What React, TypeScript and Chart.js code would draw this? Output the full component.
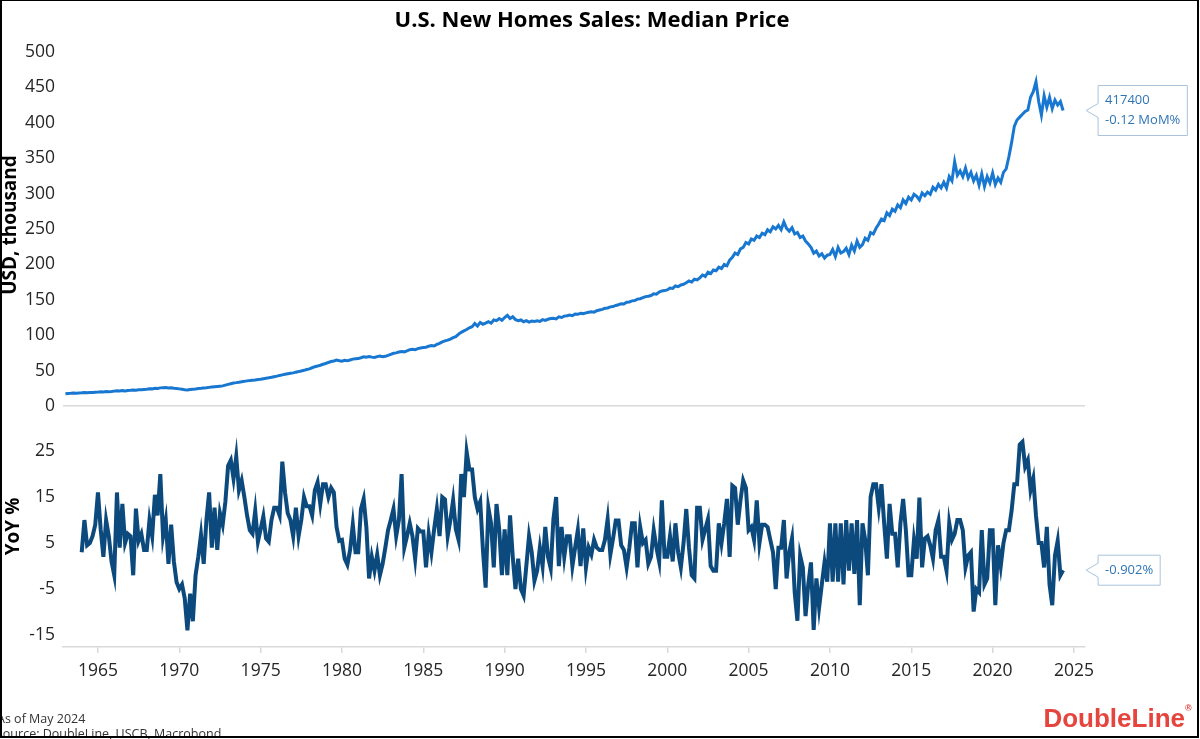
import React, { useEffect, useRef } from "react";
import { Chart, registerables } from "chart.js";

Chart.register(...registerables);

// ---------- Data (bi-monthly samples: Jan, Mar, May, Jul, Sep, Nov) ----------
const TITLE = "U.S. New Homes Sales: Median Price";
const PRICE_AXIS_TITLE = "USD, thousand";
const YOY_AXIS_TITLE = "YoY %";
const PRICE_START_YEAR = 1963;
const YOY_START_YEAR = 1964;
const PERIODS_PER_YEAR = 6;

const YEAR_TICKS = [1965, 1970, 1975, 1980, 1985, 1990, 1995, 2000, 2005, 2010, 2015, 2020, 2025];
const PRICE_TICKS = [0, 50, 100, 150, 200, 250, 300, 350, 400, 450, 500];
const YOY_TICKS = [-15, -5, 5, 15, 25];

// Median price, USD thousand
const priceValues = [
  17.2, 17.8, 18.0, 18.3, 18.1, 18.5, // 1963
  18.6, 18.9, 18.7, 19.2, 19.0, 19.4, // 1964
  19.6, 20.0, 19.8, 20.3, 20.1, 20.5, // 1965
  21.0, 21.4, 21.1, 21.7, 21.3, 22.0, // 1966
  22.2, 22.6, 22.4, 23.0, 22.8, 23.3, // 1967
  23.8, 24.5, 24.2, 25.0, 24.8, 25.6, // 1968
  25.8, 26.0, 25.6, 25.9, 25.2, 24.8, // 1969
  24.2, 23.6, 23.0, 22.6, 23.2, 23.8, // 1970
  24.0, 24.6, 25.0, 25.5, 25.8, 26.3, // 1971
  26.8, 27.2, 27.6, 28.0, 28.4, 29.5, // 1972
  30.5, 31.5, 32.5, 33.0, 33.6, 34.3, // 1973
  34.8, 35.5, 35.9, 36.4, 36.8, 37.5, // 1974
  37.8, 38.6, 39.3, 39.8, 40.5, 41.4, // 1975
  42.2, 43.2, 44.0, 44.8, 45.5, 46.2, // 1976
  46.8, 47.8, 48.6, 49.5, 50.4, 51.5, // 1977
  52.5, 54.0, 55.5, 56.4, 57.6, 59.0, // 1978
  60.0, 61.5, 62.8, 63.5, 64.8, 64.0, // 1979
  63.2, 64.5, 63.8, 65.0, 66.2, 66.8, // 1980
  67.0, 68.2, 69.5, 68.8, 70.0, 69.0, // 1981
  68.5, 69.8, 70.5, 69.5, 70.2, 71.5, // 1982
  73.0, 74.5, 75.0, 76.2, 77.0, 76.5, // 1983
  78.0, 79.5, 80.2, 79.5, 81.0, 82.0, // 1984
  82.5, 83.0, 84.5, 85.5, 84.8, 87.0, // 1985
  88.5, 90.5, 92.0, 93.0, 94.5, 96.5, // 1986
  98.0, 101.5, 104.0, 106.0, 108.0, 110.5, // 1987
  112.0, 116.5, 113.0, 118.0, 115.5, 117.0, // 1988
  119.0, 117.0, 121.5, 120.5, 123.5, 121.0, // 1989
  125.0, 128.0, 123.5, 126.0, 122.0, 120.5, // 1990
  121.5, 119.0, 120.5, 118.5, 120.0, 119.5, // 1991
  120.5, 119.5, 122.0, 121.0, 122.5, 123.5, // 1992
  124.0, 123.0, 126.0, 125.0, 127.0, 127.5, // 1993
  128.5, 127.5, 130.0, 129.5, 131.0, 130.5, // 1994
  131.5, 132.5, 133.0, 132.5, 134.5, 135.5, // 1995
  136.5, 138.0, 138.5, 140.0, 140.5, 142.0, // 1996
  143.0, 144.5, 144.0, 146.5, 147.0, 148.5, // 1997
  149.0, 151.0, 151.5, 153.0, 154.5, 155.0, // 1998
  156.0, 158.5, 158.0, 161.0, 162.5, 163.0, // 1999
  164.0, 166.5, 166.0, 169.5, 168.5, 171.0, // 2000
  172.0, 174.0, 176.5, 175.0, 179.0, 178.0, // 2001
  181.0, 185.0, 183.0, 189.0, 187.0, 192.0, // 2002
  191.0, 196.0, 194.0, 200.0, 198.0, 206.0, // 2003
  210.0, 216.0, 214.0, 222.0, 224.0, 231.0, // 2004
  229.0, 236.0, 234.0, 240.0, 238.0, 244.0, // 2005
  242.0, 249.0, 246.0, 253.0, 250.0, 255.0, // 2006
  249.0, 260.0, 251.0, 247.0, 252.0, 243.0, // 2007
  245.0, 238.0, 240.0, 233.0, 229.0, 224.0, // 2008
  216.0, 219.0, 212.0, 215.0, 209.0, 213.0, // 2009
  214.0, 221.0, 211.0, 224.0, 216.0, 218.0, // 2010
  223.0, 214.0, 227.0, 219.0, 233.0, 224.0, // 2011
  228.0, 237.0, 234.0, 245.0, 243.0, 251.0, // 2012
  257.0, 264.0, 262.0, 273.0, 269.0, 278.0, // 2013
  275.0, 284.0, 280.0, 291.0, 286.0, 295.0, // 2014
  291.0, 299.0, 296.0, 291.0, 301.0, 297.0, // 2015
  302.0, 299.0, 309.0, 305.0, 313.0, 308.0, // 2016
  316.0, 308.0, 324.0, 318.0, 345.0, 326.0, // 2017
  332.0, 324.0, 336.0, 322.0, 330.0, 318.0, // 2018
  326.0, 312.0, 328.0, 310.0, 324.0, 315.0, // 2019
  329.0, 313.0, 322.0, 316.0, 330.0, 335.0, // 2020
  352.0, 372.0, 395.0, 404.0, 408.0, 412.0, // 2021
  416.0, 418.0, 436.0, 444.0, 458.0, 430.0, // 2022
  411.0, 438.0, 422.0, 436.0, 420.0, 432.0, // 2023
  425.0, 430.0, 417.4, // 2024 (Jan, Mar, May)
];

// Year-over-year change, %
const yoyValues = [
  3, 10, 4.5, 5, 6.5, 9, // 1964
  16, 8, 2, 10, 6.5, 1, // 1965
  -2, 16, 4, 13.5, 5, 7, // 1966
  6.5, -2, 12.5, 5.5, 7, 3.5, // 1967
  3.5, 10, 6.5, 15.5, 11, 20, // 1968
  6.5, 10, 0.5, 9, 1, -3.5, // 1969
  -5, -4, -7, -14, -6, -12, // 1970
  -2, 2, 6.8, 0.5, 10, 16, // 1971
  4, 12.7, 3.5, 11.5, 9, 14, // 1972
  21.8, 23, 19, 23.8, 16.5, 18.6, // 1973
  15, 11, 7.8, 7, 12, 5.3, // 1974
  8, 10.8, 6, 5.3, 10, 12.7, // 1975
  12.7, 11, 22.7, 16, 11.5, 10, // 1976
  6.5, 12.7, 6.5, 10, 15, 13, // 1977
  13, 11, 16.5, 18.2, 13.5, 17.8, // 1978
  17.8, 15, 17, 16, 8.5, 5.5, // 1979
  5.7, 1.6, 0.3, 3.5, 9, 3, // 1980
  3, 12.4, 14.6, 8.5, -2.7, 2, // 1981
  -1, 2.5, -2, 0.5, 4, 7.8, // 1982
  10, 12.4, 6.5, 10, 20, 4, // 1983
  6.5, 9.3, 6.5, 1.6, 8.2, 7.5, // 1984
  7.5, -0.3, 7, 3, 8, 12.4, // 1985
  6.5, 15, 14.5, 6.5, 10, 14.3, // 1986
  8, 5.7, 20, 15, 24.8, 21, // 1987
  21, 15, 12.4, 14, 3.5, -4.7, // 1988
  12.7, 9.3, -0.3, 13.5, 8, -2, // 1989
  8, -2, 11, 2, -5, 1.6, // 1990
  -5, -6.4, 0, 6.5, 3, -3.2, // 1991
  -1, 4, 0, 8.5, 2, -0.5, // 1992
  10.2, 15, 0, 8.5, 2, 6.5, // 1993
  6.5, 0, 4, 7.8, 0, 8.2, // 1994
  -0.3, 4, 2.5, 5.7, 4, 3.5, // 1995
  3.5, 5.7, 10.2, 2.5, 6, 9.9, // 1996
  9.9, 4.5, 3.5, -0.3, 4, 9.3, // 1997
  9.3, -0.3, 8.5, 5, 5.7, 0.5, // 1998
  2, 7.8, 4, 1, 14.3, 2, // 1999
  2, 6.5, 1, 9.3, 3, -0.3, // 2000
  5, 12.4, 4, -2, -2.7, 12.7, // 2001
  12.7, 5.7, 8, 10.2, 0, -1, // 2002
  -1, 9.3, 5, 9.3, 14.6, 2, // 2003
  17.5, 17, 9, 14.3, 18.6, 17, // 2004
  7.8, 8.5, 5.7, 14.3, 5, 9, // 2005
  9, 8.5, 5.7, 3, -5, 4, // 2006
  4, 10, -2.7, 3, 6, -5.7, // 2007
  -11.9, 2.3, -0.3, -10.9, -4, 0.8, // 2008
  -13.9, -2.7, -9, -4, 0.8, -3.4, // 2009
  9.3, -3.4, 9.3, -3.4, 9.3, -4, // 2010
  10, -1, 9.3, -1.7, 10, -8.5, // 2011
  9.3, 5.7, -2, 15, 17.8, 17.8, // 2012
  12.7, 17.8, 9.3, 1.6, 13.5, 7, // 2013
  7, -0.3, 9.3, 14.6, 7.8, -2, // 2014
  -2, 5.7, 1.6, 14.9, -0.3, 6, // 2015
  6.5, 4.5, 1.6, 7.8, 10, 2, // 2016
  2, -1, 9.3, 5.7, 7, 10, // 2017
  10, 7.8, -0.3, 2.3, 3, -9.9, // 2018
  -5, -5.7, 7.8, -4, -2.7, 7.8, // 2019
  7.8, -8.5, 4.5, 0, 5, 7.8, // 2020
  7.8, 12, 17.8, 17.8, 26.4, 27, // 2021
  21.6, 23, 16.5, 19, 11, 5, // 2022
  5, -0.3, 8.5, -4, -8.5, 2.3, // 2023
  5.5, -2, -0.902, // 2024 (Jan, Mar, May)
];

const PRICE_LABEL_LINES = ["417400", "-0.12 MoM%"];
const YOY_LABEL_LINES = ["-0.902%"];
const FOOTER_LINES = ["As of May 2024", "Source: DoubleLine, USCB, Macrobond"];
const BRAND = "DoubleLine";

// ---------- Styling ----------
const PRICE_COLOR = "#1877D0";
const YOY_COLOR = "#0C4A7D";
const CALLOUT_TEXT = "#2E75B6";
const CALLOUT_BORDER = "#A9C3DC";
const AXIS_GREY = "#D9D9D9";
const TICK_COLOR = "#262626";
const FONT = '"Open Sans"';

const toPoints = (values: number[], startYear: number) =>
  values.map((v, i) => ({ x: startYear + i / PERIODS_PER_YEAR, y: v }));

function drawCallout(ctx: CanvasRenderingContext2D, lines: string[], tipX: number, tipY: number) {
  ctx.font = `13px ${FONT}`;
  const padX = 7;
  const lineH = 20;
  const textW = Math.max(...lines.map((l) => ctx.measureText(l).width));
  const boxL = tipX + 12;
  const boxW = textW + padX * 2;
  const boxH = lines.length * lineH + 10;
  const boxT = tipY - boxH / 2;
  ctx.beginPath();
  ctx.moveTo(boxL, boxT);
  ctx.lineTo(boxL + boxW, boxT);
  ctx.lineTo(boxL + boxW, boxT + boxH);
  ctx.lineTo(boxL, boxT + boxH);
  ctx.lineTo(boxL, tipY + 7);
  ctx.lineTo(tipX, tipY);
  ctx.lineTo(boxL, tipY - 7);
  ctx.closePath();
  ctx.fillStyle = "#FFFFFF";
  ctx.fill();
  ctx.strokeStyle = CALLOUT_BORDER;
  ctx.lineWidth = 1;
  ctx.stroke();
  ctx.fillStyle = CALLOUT_TEXT;
  ctx.textAlign = "left";
  ctx.textBaseline = "middle";
  lines.forEach((l, i) => ctx.fillText(l, boxL + padX, boxT + 5 + lineH / 2 + i * lineH));
}

function drawRotated(ctx: CanvasRenderingContext2D, text: string, x: number, y: number) {
  ctx.save();
  ctx.translate(x, y);
  ctx.rotate(-Math.PI / 2);
  ctx.textAlign = "center";
  ctx.textBaseline = "middle";
  ctx.fillText(text, 0, 0);
  ctx.restore();
}

const overlayPlugin = {
  id: "overlay",
  afterDraw(chart: any) {
    const ctx: CanvasRenderingContext2D = chart.ctx;
    const xs = chart.scales.x;
    const yP = chart.scales.yPrice;
    const yY = chart.scales.yYoY;
    ctx.save();

    // Title
    ctx.fillStyle = "#000000";
    ctx.font = `bold 22px ${FONT}`;
    ctx.textAlign = "center";
    ctx.textBaseline = "middle";
    ctx.fillText(TITLE, 592, 21);

    // Axis titles
    ctx.font = `bold 19px ${FONT}`;
    ctx.fillStyle = "#000000";
    drawRotated(ctx, PRICE_AXIS_TITLE, 11, (yP.top + yP.bottom) / 2 - 4);
    drawRotated(ctx, YOY_AXIS_TITLE, 14, (yY.top + yY.bottom) / 2);

    // Callouts at last values
    const lastPriceX = PRICE_START_YEAR + (priceValues.length - 1) / PERIODS_PER_YEAR;
    const lastYoyX = YOY_START_YEAR + (yoyValues.length - 1) / PERIODS_PER_YEAR;
    drawCallout(
      ctx,
      PRICE_LABEL_LINES,
      xs.getPixelForValue(lastPriceX) + 23,
      yP.getPixelForValue(priceValues[priceValues.length - 1])
    );
    drawCallout(
      ctx,
      YOY_LABEL_LINES,
      xs.getPixelForValue(lastYoyX) + 23,
      yY.getPixelForValue(yoyValues[yoyValues.length - 1])
    );

    // Footer
    ctx.font = `12.5px ${FONT}`;
    ctx.fillStyle = "#333333";
    ctx.textAlign = "left";
    ctx.textBaseline = "alphabetic";
    ctx.fillText(FOOTER_LINES[0], -3, 723);
    ctx.fillText(FOOTER_LINES[1], -4, 738);

    // Brand
    ctx.font = `bold 26px "Liberation Sans", Arial, sans-serif`;
    ctx.fillStyle = "#E5453D";
    ctx.textAlign = "right";
    ctx.fillText(BRAND, 1185, 727);
    ctx.font = `bold 9px "Liberation Sans", Arial, sans-serif`;
    ctx.textAlign = "left";
    ctx.fillText("®", 1185, 711);

    // Frame
    ctx.strokeStyle = "#000000";
    ctx.lineWidth = 2;
    ctx.strokeRect(1, 0, 1197, 737);
    ctx.restore();
  },
};

export default function App() {
  const ref = useRef<HTMLCanvasElement | null>(null);

  useEffect(() => {
    const canvas = ref.current;
    if (!canvas) return;
    const tickFont = { family: "Open Sans", size: 17.5 };
    const chart = new Chart(canvas, {
      type: "line",
      data: {
        datasets: [
          {
            label: "Median price",
            data: toPoints(priceValues, PRICE_START_YEAR),
            xAxisID: "x",
            yAxisID: "yPrice",
            borderColor: PRICE_COLOR,
            borderWidth: 3,
            pointRadius: 0,
            tension: 0,
          },
          {
            label: "YoY %",
            data: toPoints(yoyValues, YOY_START_YEAR),
            xAxisID: "x",
            yAxisID: "yYoY",
            borderColor: YOY_COLOR,
            borderWidth: 4,
            pointRadius: 0,
            tension: 0,
          },
        ],
      },
      options: {
        responsive: false,
        animation: false,
        devicePixelRatio: 1,
        layout: { padding: { top: 52, right: 115, bottom: 52, left: 0 } },
        plugins: { legend: { display: false }, tooltip: { enabled: false }, title: { display: false } },
        scales: {
          x: {
            type: "linear",
            position: "bottom",
            min: 1962.85,
            max: 2025.68,
            afterBuildTicks: (s: any) => {
              s.ticks = YEAR_TICKS.map((v) => ({ value: v }));
            },
            afterFit: (s: any) => {
              s.height = 40;
            },
            ticks: {
              callback: (v: any) => String(v),
              font: tickFont,
              color: TICK_COLOR,
              padding: 8,
              maxRotation: 0,
              autoSkip: false,
            },
            grid: { display: true, drawOnChartArea: false, drawTicks: true, tickLength: 6, color: AXIS_GREY, lineWidth: 1.5 },
            border: { display: true, color: AXIS_GREY, width: 1.5 },
          },
          yPrice: {
            type: "linear",
            position: "left",
            stack: "panels",
            stackWeight: 354,
            weight: 2,
            min: 0,
            max: 500,
            afterBuildTicks: (s: any) => {
              s.ticks = PRICE_TICKS.map((v) => ({ value: v }));
            },
            afterFit: (s: any) => {
              s.width = 63;
            },
            ticks: { font: tickFont, color: TICK_COLOR, padding: 8, autoSkip: false },
            grid: {
              drawTicks: false,
              lineWidth: 1.5,
              color: (c: any) => (c.tick && c.tick.value === 0 ? AXIS_GREY : "rgba(0,0,0,0)"),
            },
            border: { display: false },
          },
          yYoY: {
            type: "linear",
            position: "left",
            stack: "panels",
            stackWeight: 241,
            weight: 1,
            min: -17.6,
            max: 34.8,
            afterBuildTicks: (s: any) => {
              s.ticks = YOY_TICKS.map((v) => ({ value: v }));
            },
            afterFit: (s: any) => {
              s.width = 63;
            },
            ticks: { font: tickFont, color: TICK_COLOR, padding: 8, autoSkip: false },
            grid: { display: false, drawTicks: false },
            border: { display: false },
          },
        },
      },
      plugins: [overlayPlugin],
    } as any);
    return () => chart.destroy();
  }, []);

  return (
    <div style={{ position: "absolute", left: 0, top: 0, width: 1200, height: 739, background: "#FFFFFF" }}>
      <canvas ref={ref} width={1200} height={739} style={{ display: "block", width: 1200, height: 739 }} />
    </div>
  );
}
